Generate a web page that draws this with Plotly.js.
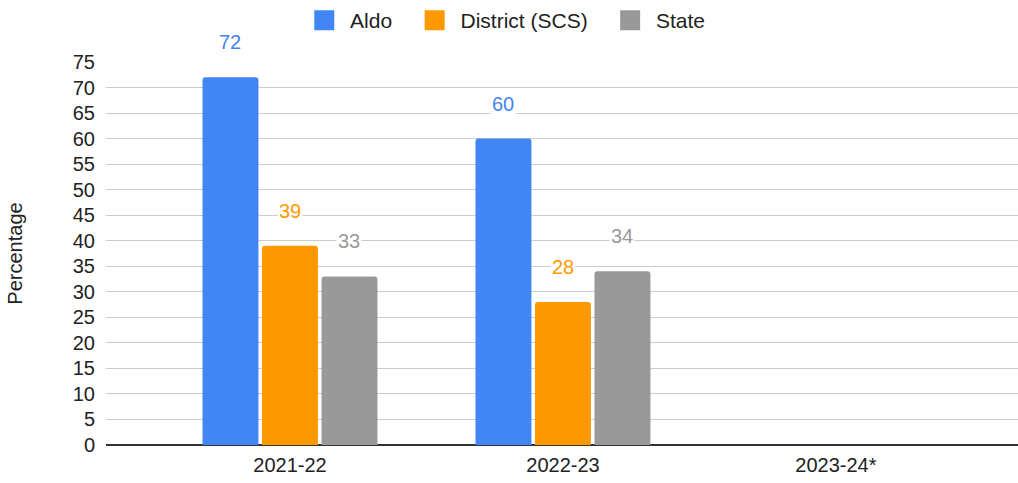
<!DOCTYPE html>
<html>
<head>
<meta charset="utf-8">
<script src="https://cdn.plot.ly/plotly-3.0.1.min.js"></script>
<style>
  html, body { margin: 0; padding: 0; background: #fff; }
  #chart { width: 1018px; height: 483px; }
</style>
</head>
<body>
<div id="chart"></div>
<script>
// school years on the x axis
var years = ["2021-22", "2022-23", "2023-24*"];

// percentages per series (no data yet for 2023-24)
var aldo = [72, 60, null];
var district = [39, 28, null];
var state = [33, 34, null];

var names = ["Aldo", "District (SCS)", "State"];
var colors = ["#4285F4", "#FF9900", "#999999"];
var yTicks = [0, 5, 10, 15, 20, 25, 30, 35, 40, 45, 50, 55, 60, 65, 70, 75];

var fontFam = "Liberation Sans, Arial, sans-serif";
var fs = 20;
var gap = 0.346;
var series = [aldo, district, state];
var legendPad = [3, 3, 0];   // extra spacing after each key entry

var data = [];
for (var k = 0; k < series.length; k++) {
  data.push({
    type: "bar",
    name: names[k],
    x: years,
    y: series[k],
    marker: { color: colors[k] },
    showlegend: false,
    hoverinfo: "y"
  });
}
// legend-only entries so the key squares can be bigger
for (var k = 0; k < series.length; k++) {
  data.push({
    type: "scatter",
    mode: "markers",
    name: "\u00a0" + names[k] + "\u00a0".repeat(legendPad[k]),
    x: [null],
    y: [null],
    marker: { symbol: "square", size: 16, color: colors[k], line: { color: colors[k], width: 4 } },
    showlegend: true
  });
}

// value labels, sitting above each bar with a white box
var annotations = [];
var slot = (1 - gap) / series.length;
for (var k = 0; k < series.length; k++) {
  for (var i = 0; i < years.length; i++) {
    if (series[k][i] == null) continue;
    annotations.push({
      x: i + (k - 1) * slot,
      y: series[k][i],
      xref: "x", yref: "y",
      text: String(series[k][i]),
      showarrow: false,
      yshift: 35,
      bgcolor: "#ffffff",
      borderpad: 1,
      font: { family: fontFam, size: fs, color: colors[k] }
    });
  }
}

var layout = {
  width: 1018,
  height: 483,
  margin: { l: 106, r: 0, t: 62, b: 38 },
  paper_bgcolor: "#ffffff",
  plot_bgcolor: "#ffffff",
  font: { family: fontFam, size: fs, color: "#222222" },
  barmode: "group",
  bargap: gap,
  bargroupgap: 0.06,
  barcornerradius: 3,
  showlegend: true,
  legend: {
    orientation: "h",
    x: 0.440, xanchor: "center",
    yref: "container",
    y: 1, yanchor: "top",
    font: { family: fontFam, size: 21, color: "#222222" },
    itemwidth: 30
  },
  xaxis: {
    type: "category",
    range: [-0.674, 2.667],
    showgrid: false,
    zeroline: false,
    showline: false,
    ticks: "",
    ticklabelstandoff: 6,
    tickfont: { family: fontFam, size: fs, color: "#222222" }
  },
  yaxis: {
    range: [0, 75],
    tickvals: yTicks,
    showgrid: true,
    gridcolor: "#cccccc",
    gridwidth: 1,
    zeroline: true,
    zerolinecolor: "#333333",
    zerolinewidth: 1.5,
    ticklabelstandoff: 10,
    tickfont: { family: fontFam, size: fs, color: "#222222" },
    title: { text: "Percentage", font: { family: fontFam, size: fs, color: "#222222" }, standoff: 44 }
  },
  annotations: annotations
};

Plotly.newPlot("chart", data, layout, { displayModeBar: false, staticPlot: true });
</script>
</body>
</html>
